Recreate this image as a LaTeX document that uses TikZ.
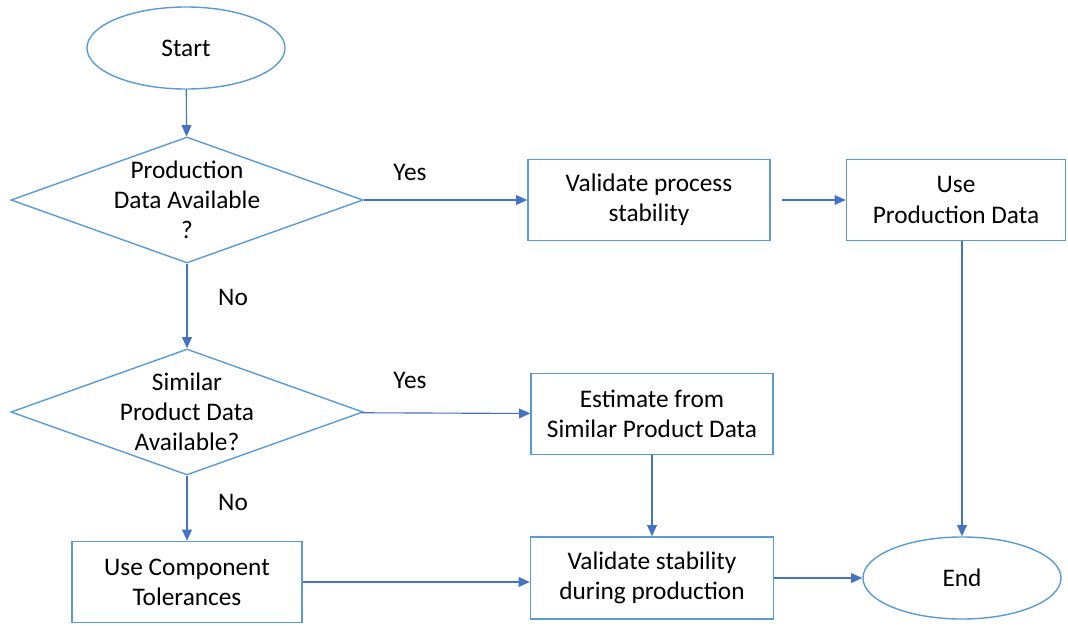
\documentclass[tikz,border=0pt]{standalone}
\usepackage{fontspec}
\setmainfont{Carlito}
\usetikzlibrary{shapes.geometric,arrows.meta}

\definecolor{shapeblue}{RGB}{91,155,213}
\definecolor{arrowblue}{RGB}{68,114,196}

\tikzset{
  terminal/.style={ellipse, draw=shapeblue, line width=1pt, minimum width=4.95cm, minimum height=2.05cm},
  decision/.style={diamond, draw=shapeblue, line width=1pt, minimum width=8.8cm, minimum height=3.15cm, inner sep=0pt},
  process/.style={rectangle, draw=shapeblue, line width=1pt, align=center, inner sep=0pt, minimum height=2.025cm},
  flow/.style={draw=arrowblue, line width=0.8pt, -{Triangle[length=8pt,width=7pt]}},
}

\begin{document}
\begin{tikzpicture}[x=0.025cm, y=-0.025cm, every node/.append style={font=\fontsize{18}{21.5}\selectfont}]

  \useasboundingbox (0,0) rectangle (1068,626);

  \node[terminal] (start) at (186, 48) {Start};
  \node[decision, label={[align=center]center:Production\\Data Available\\?}] (d1) at (187, 200) {};
  \node[process, minimum width=6.05cm] (vps) at (649, 200) {Validate process\\stability};
  \node[process, minimum width=5.475cm] (upd) at (956, 200) {Use\\Production Data};
  \node[decision, label={[align=center]center:Similar\\Product Data\\Available?}] (d2) at (187, 412) {};
  \node[process, minimum width=6.05cm] (est) at (652, 414) {Estimate from\\Similar Product Data};
  \node[process, minimum width=5.75cm] (uct) at (187, 582) {Use Component\\Tolerances};
  \node[process, minimum width=6.075cm, minimum height=2.05cm] (vsp) at (652, 578) {Validate stability\\during production};
  \node[terminal] (end) at (962, 578) {End};

  \node (y1) at (410, 172) {Yes};
  \node (y2) at (410, 380) {Yes};
  \node (n1) at (233, 297) {No};
  \node (n2) at (233, 502) {No};

  \draw [flow] (start) -- (d1);
  \draw [flow] (d1) -- (vps);
  \draw [flow, shorten <=8pt] (vps) -- (upd);
  \draw [flow] (upd.south -| end.north) -- (end.north);
  \draw [flow] (d1) -- (d2);
  \draw [flow] (d2) -- (est);
  \draw [flow] (d2) -- (uct);
  \draw [flow] (est) -- (vsp);
  \draw [flow] (uct.east) -- (uct.east -| vsp.west);
  \draw [flow] (vsp) -- (end);

\end{tikzpicture}
\end{document}
